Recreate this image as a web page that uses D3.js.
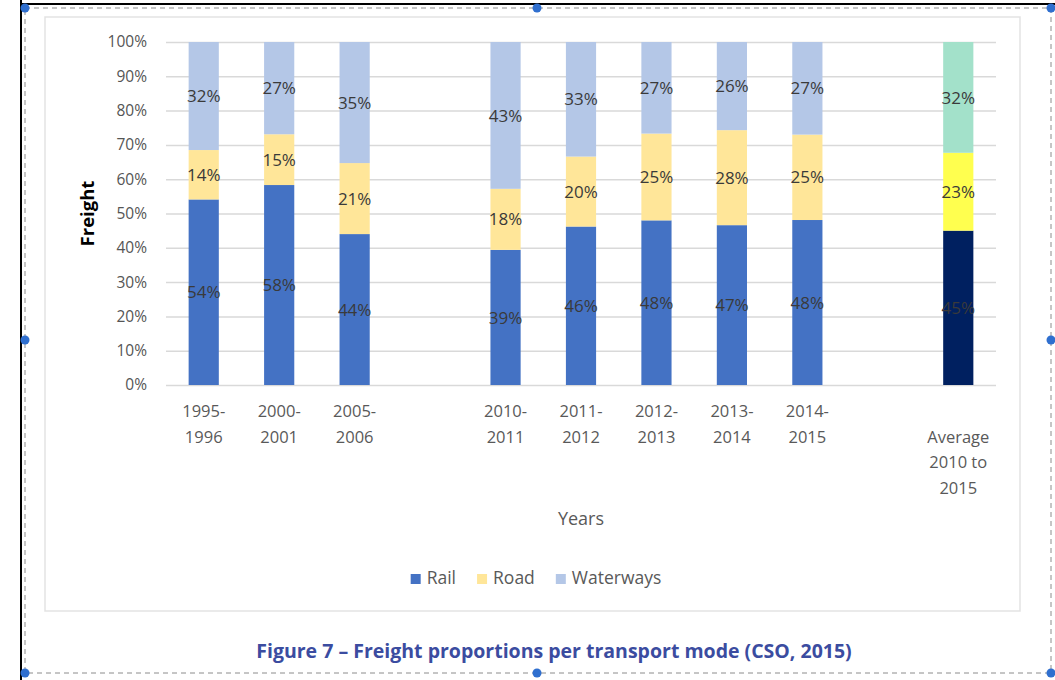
<!DOCTYPE html>
<html>
<head>
<meta charset="utf-8">
<script src="https://cdn.jsdelivr.net/npm/d3@7"></script>
<style>
  html, body { margin: 0; padding: 0; background: #fff; }
  svg { display: block; font-family: "Open Sans", sans-serif; }
</style>
</head>
<body>
<div id="chart"></div>
<script>
  // categories (two gaps are empty slots in the original chart)
  var categories = ["1995-1996", "2000-2001", "2005-2006", "gap1", "2010-2011",
    "2011-2012", "2012-2013", "2013-2014", "2014-2015", "gap2", "Average"];
  var tickLabels = [["1995-", "1996"], ["2000-", "2001"], ["2005-", "2006"], [],
    ["2010-", "2011"], ["2011-", "2012"], ["2012-", "2013"], ["2013-", "2014"],
    ["2014-", "2015"], [], ["", "Average", "2010 to", "2015"]];

  // shares in percent
  var rail      = [54.1, 58.3, 44.0, null, 39.4, 46.2, 48.0, 46.6, 48.1, null, 45.0];
  var road      = [14.4, 14.8, 20.7, null, 17.8, 20.4, 25.3, 27.7, 24.9, null, 22.7];
  var waterways = [31.5, 26.9, 35.3, null, 42.8, 33.4, 26.7, 25.7, 27.0, null, 32.3];

  var seriesNames = ["Rail", "Road", "Waterways"];
  var yTicks = [0, 10, 20, 30, 40, 50, 60, 70, 80, 90, 100];

  var W = 1055, H = 680;
  var plot = { left: 166, right: 996, top: 42, bottom: 385 };
  var colors = ["#4472C4", "#FFE699", "#B4C7E7"];
  var avgColors = ["#002060", "#FFFF4F", "#A3E1CA"];

  var svg = d3.select("#chart").append("svg").attr("width", W).attr("height", H);

  /**************************************************
   * Page frame                                     *
   **************************************************/
  svg.append("line").attr("x1", 21).attr("x2", 21).attr("y1", 0).attr("y2", H)
    .attr("stroke", "#000").attr("stroke-width", 2);
  svg.append("line").attr("x1", 20).attr("x2", W).attr("y1", 4).attr("y2", 4)
    .attr("stroke", "#000").attr("stroke-width", 2);
  svg.append("rect").attr("x", 25).attr("y", 8).attr("width", 1026).attr("height", 665)
    .attr("fill", "none").attr("stroke", "#8c8c8c").attr("stroke-dasharray", "5,4");
  svg.append("rect").attr("x", 45).attr("y", 17).attr("width", 975).attr("height", 594)
    .attr("fill", "#fff").attr("stroke", "#e3e3e3").attr("stroke-width", 1.5);

  /**************************************************
   * Scales and axes                                *
   **************************************************/
  var x = d3.scaleBand().domain(categories).range([plot.left, plot.right])
    .paddingInner(0.6).paddingOuter(0.3);
  var y = d3.scaleLinear().domain([0, 100]).range([plot.bottom, plot.top]);

  var grid = svg.append("g").attr("transform", "translate(" + plot.left + ",0)")
    .call(d3.axisLeft(y).tickValues(yTicks).tickSize(-(plot.right - plot.left)).tickFormat(""));
  grid.select(".domain").remove();
  grid.selectAll("line").attr("stroke", "#d9d9d9").attr("stroke-width", 1.5);

  var yAxis = svg.append("g").attr("transform", "translate(" + plot.left + ",0)")
    .call(d3.axisLeft(y).tickValues(yTicks).tickSize(0).tickPadding(19)
      .tickFormat(function(d) { return d + "%"; }));
  yAxis.select(".domain").remove();
  yAxis.selectAll("text").attr("font-size", 15.5).attr("fill", "#555")
    .attr("font-family", "Open Sans");

  var xAxis = svg.append("g").attr("transform", "translate(0," + plot.bottom + ")")
    .call(d3.axisBottom(x).tickSize(0).tickFormat(""));
  xAxis.select(".domain").remove();
  xAxis.selectAll(".tick").each(function(d, i) {
    var t = d3.select(this).select("text")
      .attr("font-size", 16.5).attr("fill", "#595959").attr("font-family", "Open Sans")
      .attr("y", 0).attr("dy", null);
    tickLabels[i].forEach(function(line, j) {
      t.append("tspan").attr("x", 0).attr("y", 32 + j * 25.5).text(line);
    });
  });

  /**************************************************
   * Stacked bars                                   *
   **************************************************/
  var rows = categories.map(function(c, i) {
    return { cat: c, Rail: rail[i], Road: road[i], Waterways: waterways[i], avg: c === "Average" };
  }).filter(function(r) { return r.Rail !== null; });

  var stacked = d3.stack().keys(seriesNames)(rows);

  var layers = svg.append("g").selectAll("g").data(stacked).join("g");
  layers.selectAll("rect").data(function(s) { return s.map(function(p) { p.idx = s.index; return p; }); })
    .join("rect")
    .attr("x", function(p) { return x(p.data.cat); })
    .attr("width", x.bandwidth())
    .attr("y", function(p) { return y(p[1]); })
    .attr("height", function(p) { return y(p[0]) - y(p[1]); })
    .attr("fill", function(p) { return p.data.avg ? avgColors[p.idx] : colors[p.idx]; });

  layers.selectAll("text").data(function(s) { return s; })
    .join("text")
    .attr("x", function(p) { return x(p.data.cat) + x.bandwidth() / 2; })
    .attr("y", function(p) { return (y(p[0]) + y(p[1])) / 2; })
    .attr("dy", "0.36em")
    .attr("text-anchor", "middle")
    .attr("font-size", 17)
    .attr("fill", "#3a3a3a")
    .text(function(p) { return Math.round(p[1] - p[0]) + "%"; });

  /**************************************************
   * Titles, legend, caption                        *
   **************************************************/
  svg.append("text")
    .attr("transform", "translate(94," + ((plot.top + plot.bottom) / 2) + ") rotate(-90)")
    .attr("text-anchor", "middle").attr("font-size", 18.5).attr("font-weight", "bold")
    .attr("fill", "#000").text("Freight");

  svg.append("text").attr("x", (plot.left + plot.right) / 2).attr("y", 525)
    .attr("text-anchor", "middle").attr("font-size", 18).attr("fill", "#595959").text("Years");

  var legend = svg.append("g");
  var lx = 0;
  seriesNames.forEach(function(name, i) {
    var item = legend.append("g").attr("transform", "translate(" + lx + ",0)");
    item.append("rect").attr("x", 0).attr("y", -10).attr("width", 10).attr("height", 10)
      .attr("fill", colors[i]);
    var t = item.append("text").attr("x", 16).attr("y", 0).attr("font-size", 17.5)
      .attr("fill", "#595959").text(name);
    lx += 16 + t.node().getComputedTextLength() + 21;
  });
  legend.attr("transform", "translate(" + (536 - (lx - 21) / 2) + ",584)");

  svg.append("text").attr("x", 554).attr("y", 658).attr("text-anchor", "middle")
    .attr("font-size", 19.5).attr("font-weight", "bold").attr("fill", "#3b4ca0")
    .text("Figure 7 \u2013 Freight proportions per transport mode (CSO, 2015)");

  // selection handles of the frame
  var handles = [[25, 8], [537, 8], [1051, 8], [25, 340], [1051, 340], [25, 673], [537, 673], [1051, 673]];
  svg.append("g").selectAll("circle").data(handles).join("circle")
    .attr("cx", function(d) { return d[0]; }).attr("cy", function(d) { return d[1]; })
    .attr("r", 4.5).attr("fill", "#2f6fcf");
</script>
</body>
</html>
